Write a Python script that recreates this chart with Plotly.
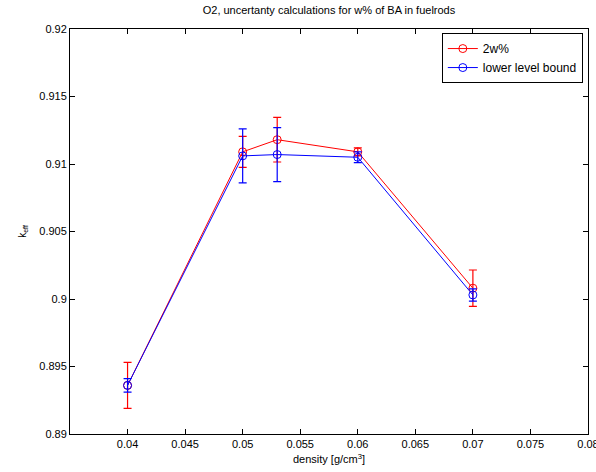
import plotly.graph_objects as go

density = [0.04, 0.05, 0.053, 0.06, 0.07]
red_k = [0.8936, 0.9109, 0.9118, 0.9109, 0.9008]
red_err = [0.0017, 0.00115, 0.00165, 0.0003, 0.00135]
blue_k = [0.8936, 0.9106, 0.9107, 0.9105, 0.9003]
blue_err = [0.0005, 0.002, 0.002, 0.0004, 0.00045]

x_ticks = [0.04, 0.045, 0.05, 0.055, 0.06, 0.065, 0.07, 0.075, 0.08]
x_ticklabels = ["0.04", "0.045", "0.05", "0.055", "0.06", "0.065", "0.07", "0.075", "0.08"]
y_ticks = [0.89, 0.895, 0.9, 0.905, 0.91, 0.915, 0.92]
y_ticklabels = ["0.89", "0.895", "0.9", "0.905", "0.91", "0.915", "0.92"]

fig = go.Figure()
fig.add_trace(go.Scatter(
    x=density, y=red_k, name="2w%", mode="lines+markers",
    line=dict(color="red", width=1),
    marker=dict(symbol="circle-open", size=8, color="red", line=dict(width=1)),
    error_y=dict(type="data", array=red_err, color="red", thickness=1.2, width=4),
))
fig.add_trace(go.Scatter(
    x=density, y=blue_k, name="lower level bound", mode="lines+markers",
    line=dict(color="blue", width=1),
    marker=dict(symbol="circle-open", size=8, color="blue", line=dict(width=1)),
    error_y=dict(type="data", array=blue_err, color="blue", thickness=1.2, width=4),
))

axis_common = dict(
    showline=True, linecolor="black", linewidth=1, mirror="ticks",
    ticks="inside", ticklen=5, tickcolor="black", showgrid=False, zeroline=False,
    ticklabeloverflow="allow", automargin=False,
    tickfont=dict(family="Liberation Sans, Arial", size=11, color="black"),
)
fig.update_xaxes(range=[0.035, 0.0800001], tickvals=x_ticks, ticktext=x_ticklabels,
                 title=dict(text="density [g/cm<sup>3</sup>]", font=dict(size=11, color="black", family="Liberation Sans, Arial"), standoff=6),
                 **axis_common)
fig.update_yaxes(range=[0.89, 0.9200001], tickvals=y_ticks, ticktext=y_ticklabels,
                 title=dict(text="k<sub>eff</sub>", font=dict(size=10, color="black", family="Liberation Sans, Arial"), standoff=10),
                 **axis_common)

fig.update_layout(
    width=596, height=472,
    margin=dict(l=70, r=8, t=29, b=38),
    paper_bgcolor="white", plot_bgcolor="white",
    title=dict(text="O2, uncertanty calculations for w% of BA in fuelrods",
               x=0.552, xanchor="center", y=0.979, yanchor="middle",
               font=dict(family="Liberation Sans, Arial", size=11, color="black")),
    legend=dict(x=0.99, y=0.99, xanchor="right", yanchor="top",
                bordercolor="black", borderwidth=1, bgcolor="white",
                font=dict(family="Liberation Sans, Arial", size=12, color="black"),
                tracegroupgap=0),
    showlegend=True,
)

fig.write_html("out.html")
